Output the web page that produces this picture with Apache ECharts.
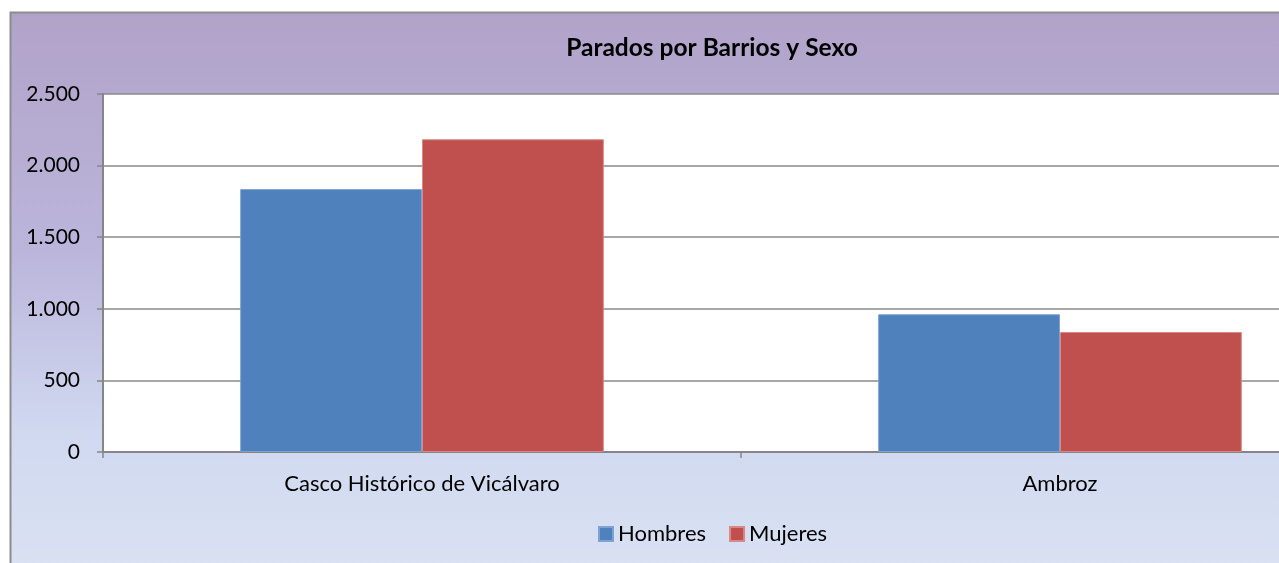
<!DOCTYPE html>
<html><head><meta charset="utf-8">
<script src="https://cdn.jsdelivr.net/npm/echarts@6/dist/echarts.min.js"></script>
<style>html,body{margin:0;padding:0;background:#fff;overflow:hidden}#c{width:1379px;height:563px}</style>
</head><body><div id="c"></div>
<script>
const categories = ["Casco Histórico de Vicálvaro", "Ambroz"];
const hombres = [1836, 962];
const mujeres = [2184, 838];
const seriesNames = ["Hombres", "Mujeres"];
const chartTitle = "Parados por Barrios y Sexo";

const FONT = "Lato";
const chart = echarts.init(document.getElementById('c'), null, {renderer: 'canvas'});
chart.setOption({
  animation: false,
  backgroundColor: '#ffffff',
  graphic: [{
    type: 'rect', z: -10, silent: true,
    shape: {x: 10.5, y: 12.5, width: 1500, height: 700},
    style: {
      stroke: '#8c8c8c', lineWidth: 2,
      fill: {type: 'linear', x: 0, y: 0, x2: 0, y2: 1, colorStops: [
        {offset: 0, color: '#b1a2c8'},
        {offset: 0.35, color: '#bcb6dc'},
        {offset: 0.6, color: '#d0d9f0'},
        {offset: 1, color: '#e3e9f5'}
      ]}
    }
  }],
  title: {
    text: chartTitle, left: 707, top: 31, textAlign: 'center',
    textStyle: {fontFamily: FONT, fontWeight: 'bold', fontSize: 24.5, color: '#000'}
  },
  legend: {
    data: seriesNames, left: 593, top: 518,
    itemWidth: 14, itemHeight: 14, itemGap: 23, icon: 'rect',
    textStyle: {fontFamily: FONT, fontSize: 22, color: '#000'}
  },
  grid: {left: 103, top: 94, right: 0, height: 358, show: true, backgroundColor: '#ffffff', borderWidth: 0, containLabel: false},
  xAxis: {
    type: 'category', data: categories,
    axisLine: {lineStyle: {color: '#868686', width: 2}},
    axisTick: {show: true, length: 6, lineStyle: {color: '#868686', width: 1.5}},
    axisLabel: {fontFamily: FONT, fontSize: 22, color: '#000', margin: 21}
  },
  yAxis: {
    type: 'value', min: 0, max: 2500, interval: 500,
    axisLine: {show: true, lineStyle: {color: '#868686', width: 2}},
    axisTick: {show: true, length: 6, lineStyle: {color: '#868686', width: 1.5}},
    splitLine: {show: true, lineStyle: {color: '#8a8a8a', width: 1.5}},
    axisLabel: {fontFamily: FONT, fontSize: 21, color: '#000', margin: 23,
      formatter: v => v.toLocaleString('de-DE')}
  },
  series: [
    {name: seriesNames[0], type: 'bar', data: hombres, barGap: '0%', barCategoryGap: '43%',
     itemStyle: {color: '#4f81bd', borderColor: '#7fa2d2', borderWidth: 1}},
    {name: seriesNames[1], type: 'bar', data: mujeres, barGap: '0%', barCategoryGap: '43%',
     itemStyle: {color: '#c0504d', borderColor: '#d88886', borderWidth: 1}}
  ]
});
</script></body></html>
